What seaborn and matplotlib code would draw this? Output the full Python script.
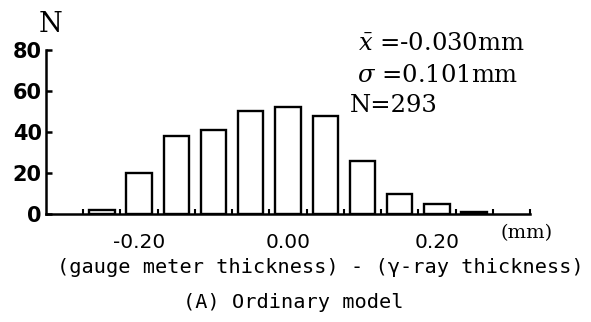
import numpy as np
import pandas as pd
import matplotlib
matplotlib.use("Agg")
import matplotlib.pyplot as plt
import seaborn as sns

# ---- data ----
bin_centers = [-0.25, -0.20, -0.15, -0.10, -0.05, 0.00, 0.05, 0.10, 0.15, 0.20, 0.25]
counts = [2, 20, 38, 41, 50, 52, 48, 26, 10, 5, 1]
bin_width = 0.05
y_ticks = [0, 20, 40, 60, 80]
x_ticks = [-0.20, 0.00, 0.20]
x_tick_labels = ["-0.20", "0.00", "0.20"]
stats_lines = [r"$\bar{x}$ =-0.030mm", r"$\sigma$ =0.101mm", "N=293"]
x_label = "(gauge meter thickness) - (\u03b3-ray thickness)"
caption = "(A) Ordinary model"

sns.set_style("ticks")
plt.rcParams["mathtext.fontset"] = "dejavuserif"
plt.rcParams["text.color"] = "black"
plt.rcParams["axes.edgecolor"] = "black"
plt.rcParams["xtick.color"] = "black"
plt.rcParams["ytick.color"] = "black"

W, H = 591, 322
fig = plt.figure(figsize=(W / 100, H / 100), dpi=100)
ax = fig.add_axes([46 / W, 1 - 214 / H, (530 - 46) / W, (214 - 50) / H])

df = pd.DataFrame({"x": bin_centers, "n": counts})
sns.histplot(data=df, x="x", weights="n", binwidth=bin_width,
             binrange=(-0.275, 0.275), shrink=0.68,
             fill=False, color="black", linewidth=1.7, ax=ax)

ax.set_xlim(-0.325, 0.325)
ax.set_ylim(0, 80)
ax.set_xlabel("")
ax.set_ylabel("")
for s in ["top", "right"]:
    ax.spines[s].set_visible(False)
for s in ["left", "bottom"]:
    ax.spines[s].set_linewidth(1.8)
    ax.spines[s].set_color("black")

ax.set_yticks(y_ticks)
ax.set_yticklabels([str(v) for v in y_ticks], fontsize=15, fontweight="bold",
                   family="DejaVu Sans", color="black")
ax.tick_params(axis="y", direction="in", length=4, width=1.8, pad=3,
               colors="black")

ax.set_xticks(x_ticks)
ax.set_xticklabels(x_tick_labels, fontsize=14.5, family="DejaVu Sans",
                   color="black")
ax.tick_params(axis="x", which="major", length=0, pad=13.5, colors="black")
ax.set_xticks(np.arange(-0.275, 0.3251, bin_width), minor=True)
ax.tick_params(axis="x", which="minor", direction="in", length=3.5, width=1.5,
               colors="black")

def fx(x):
    return x / W

def fy(y):
    return 1 - y / H

fig.text(fx(39), fy(32), "N", family="DejaVu Serif", fontsize=19.5,
         ha="left", va="baseline", color="black")
stat_pos = [(358, 50), (357, 82), (350, 112)]
for (px, py), t in zip(stat_pos, stats_lines):
    fig.text(fx(px), fy(py), t, family="DejaVu Serif", fontsize=17.5,
             ha="left", va="baseline", color="black")
fig.text(fx(500), fy(238), "(mm)", family="DejaVu Serif", fontsize=14,
         ha="left", va="baseline", color="black")
fig.text(fx(320), fy(273), x_label, family="DejaVu Sans Mono", fontsize=14.6,
         ha="center", va="baseline", color="black")
fig.text(fx(293.5), fy(308), caption, family="DejaVu Sans Mono", fontsize=14.6,
         ha="center", va="baseline", color="black")

fig.savefig("out.png", dpi=100)
